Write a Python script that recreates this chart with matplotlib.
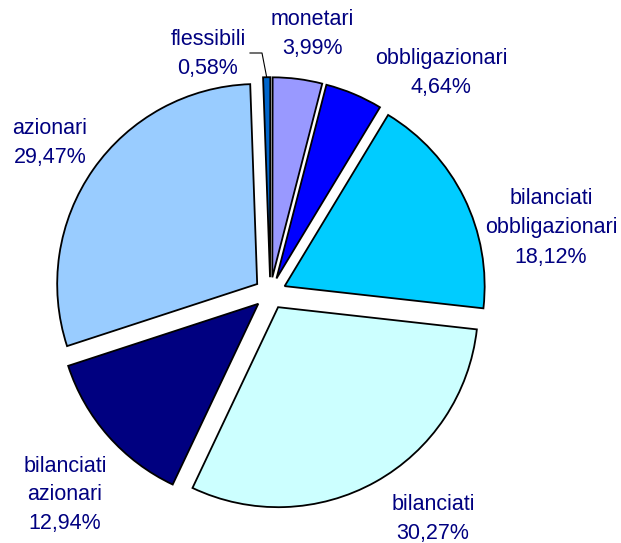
import numpy as np
import matplotlib.pyplot as plt

# Data
categories = ['flessibili', 'monetari', 'obbligazionari', 'bilanciati\nobbligazionari',
              'bilanciati', 'bilanciati\nazionari', 'azionari']
shares = [0.58, 3.99, 4.64, 18.12, 30.27, 12.94, 29.47]
colors = ['#0066cc', '#9999ff', '#0000ff', '#00ccff', '#ccffff', '#000080', '#99ccff']

# label centres in pixel coords (from top-left)
label_pos = [(208, 54), (312, 34), (441, 73), (551, 228), (433, 519), (65, 495), (50, 143)]

W, H = 621, 543
fig = plt.figure(figsize=(W / 100, H / 100), dpi=100)
ax = fig.add_axes([0, 0, 1, 1])

R = 200
cx, cy = 270.3, H - 293.2
# explode is in data units here (pixels)
wedges, _ = ax.pie(shares, colors=colors, startangle=92, counterclock=False,
                   explode=[16] * len(shares), radius=R, center=(cx, cy),
                   wedgeprops=dict(edgecolor='black', linewidth=1.3))

for name, v, (x, y) in zip(categories, shares, label_pos):
    pct = f"{v:.2f}".replace('.', ',') + '%'
    ax.text(x, H - y, name + '\n' + pct, ha='center', va='center',
            fontsize=15.5, color='#000080', family='Liberation Sans',
            linespacing=1.5, multialignment='center')

# leader line for flessibili
w = wedges[0]
th = np.deg2rad((w.theta1 + w.theta2) / 2)
ex, ey = w.center[0] + R * np.cos(th), w.center[1] + R * np.sin(th)
ax.plot([250, 262, ex], [H - 53, H - 53, ey], color='black', linewidth=0.8)

ax.set_xlim(0, W)
ax.set_ylim(0, H)
ax.set_aspect('equal')
ax.axis('off')

plt.savefig('out.png', dpi=100)
